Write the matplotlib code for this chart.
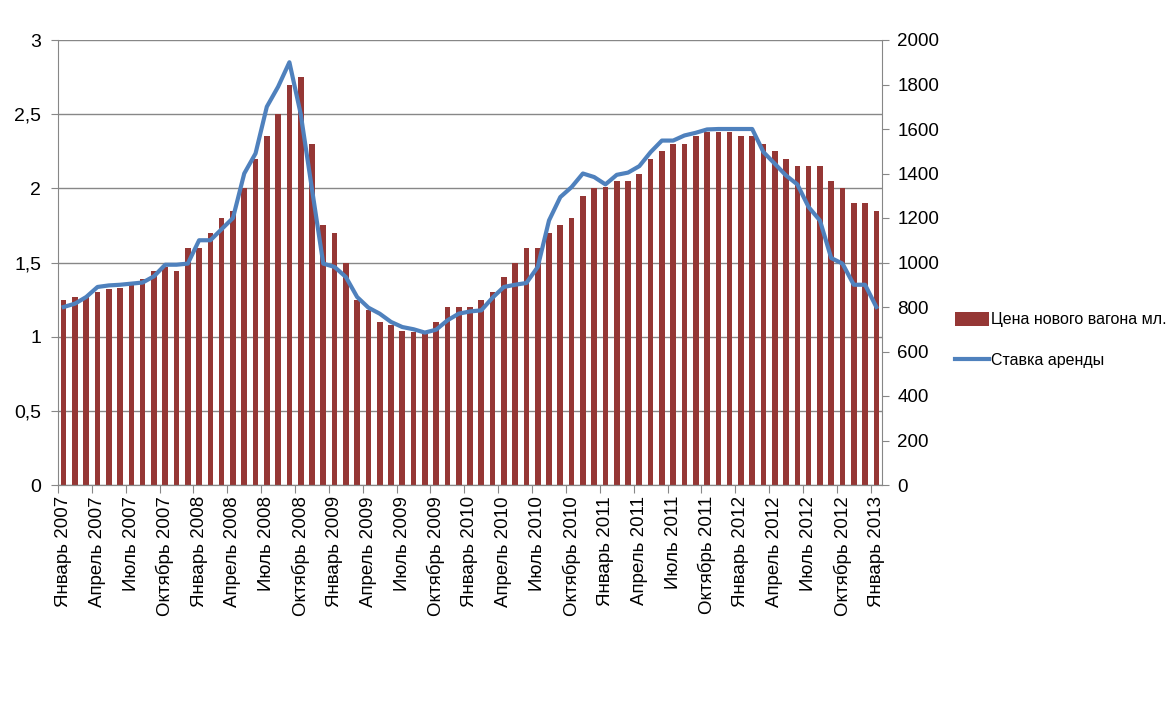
import matplotlib
matplotlib.use("Agg")
import matplotlib.pyplot as plt
from matplotlib.ticker import FixedLocator, FuncFormatter

plt.rcParams['font.family'] = ['Liberation Sans', 'DejaVu Sans']

months = ["Январь", "Февраль", "Март", "Апрель", "Май", "Июнь", "Июль",
          "Август", "Сентябрь", "Октябрь", "Ноябрь", "Декабрь"]
categories = [f"{months[i % 12]} {2007 + i // 12}" for i in range(73)]

price = [1.25, 1.27, 1.27, 1.30, 1.32, 1.33, 1.35, 1.39, 1.44, 1.47, 1.44, 1.60,
         1.60, 1.70, 1.80, 1.85, 2.00, 2.20, 2.35, 2.50, 2.70, 2.75, 2.30, 1.75,
         1.70, 1.50, 1.25, 1.18, 1.10, 1.08, 1.04, 1.03, 1.03, 1.10, 1.20, 1.20,
         1.20, 1.25, 1.30, 1.40, 1.50, 1.60, 1.60, 1.70, 1.75, 1.80, 1.95, 2.00,
         2.01, 2.05, 2.05, 2.10, 2.20, 2.25, 2.30, 2.30, 2.35, 2.38, 2.38, 2.38,
         2.35, 2.35, 2.30, 2.25, 2.20, 2.15, 2.15, 2.15, 2.05, 2.00, 1.90, 1.90,
         1.85]

rent = [800, 815, 845, 890, 897, 900, 905, 910, 938, 990, 990, 995,
        1100, 1100, 1150, 1200, 1400, 1490, 1700, 1790, 1900, 1668, 1330, 995,
        980, 935, 845, 797, 770, 733, 710, 700, 685, 698, 740, 770,
        780, 785, 842, 890, 900, 908, 980, 1189, 1294, 1339, 1400, 1384,
        1351, 1394, 1404, 1433, 1496, 1548, 1548, 1571, 1583, 1598, 1600, 1600,
        1600, 1600, 1496, 1444, 1391, 1351, 1249, 1189, 1020, 995, 900, 900,
        800]

bar_label = "Цена нового вагона мл."
line_label = "Ставка аренды"

fig = plt.figure(figsize=(11.76, 7.16), dpi=100)
ax = fig.add_axes([58/1176, 1 - 485/716, (882-58)/1176, (485-40)/716])
ax2 = ax.twinx()

x = list(range(len(categories)))
bars = ax.bar(x, price, width=0.5, color='#953735', zorder=2, label=bar_label)
line, = ax2.plot(x, rent, color='#4F81BD', lw=3, solid_joinstyle='round',
                 zorder=3, label=line_label)

ax.set_xlim(-0.5, len(categories) - 0.5)
ax.set_ylim(0, 3)
ax2.set_ylim(0, 2000)
ax.set_zorder(1)
ax2.set_zorder(2)
ax2.patch.set_visible(False)

ax.set_yticks([0, 0.5, 1, 1.5, 2, 2.5, 3])
ax.yaxis.set_major_formatter(FuncFormatter(lambda v, p: f"{v:g}".replace('.', ',')))
ax2.set_yticks(range(0, 2001, 200))

ax.grid(axis='y', color='#878787', lw=1, zorder=0)
ax.set_axisbelow(True)

# x ticks: marks at boundaries every 3 months, labels at category centres
ax.xaxis.set_major_locator(FixedLocator([i - 0.5 for i in range(0, 73, 3)]))
ax.xaxis.set_major_formatter(FuncFormatter(lambda v, p: ""))
ax.xaxis.set_minor_locator(FixedLocator(list(range(0, 73, 3))))
ax.set_xticklabels([categories[i] for i in range(0, 73, 3)], minor=True,
                   rotation=90, fontsize=13.5)
ax.tick_params(axis='x', which='major', length=6, color='#878787')
ax.tick_params(axis='x', which='minor', length=0, pad=8)

ax.tick_params(axis='y', length=5, color='#878787', labelsize=14, pad=7)
ax2.tick_params(axis='y', length=5, color='#878787', labelsize=13.5, pad=6)

for a in (ax, ax2):
    a.spines['top'].set_visible(False)
    for s in ('left', 'right', 'bottom'):
        a.spines[s].set_color('#878787')
ax2.spines['left'].set_visible(False)
ax.spines['right'].set_visible(False)

fig.legend(handles=[bars, line], labels=[bar_label, line_label],
           loc='center left', bbox_to_anchor=(955/1176, 1 - 340/716),
           frameon=False, fontsize=11.5, handlelength=2.1, handleheight=1.0,
           handletextpad=0.15, labelspacing=1.6, borderaxespad=0, borderpad=0)

fig.savefig("out.png", dpi=100)
